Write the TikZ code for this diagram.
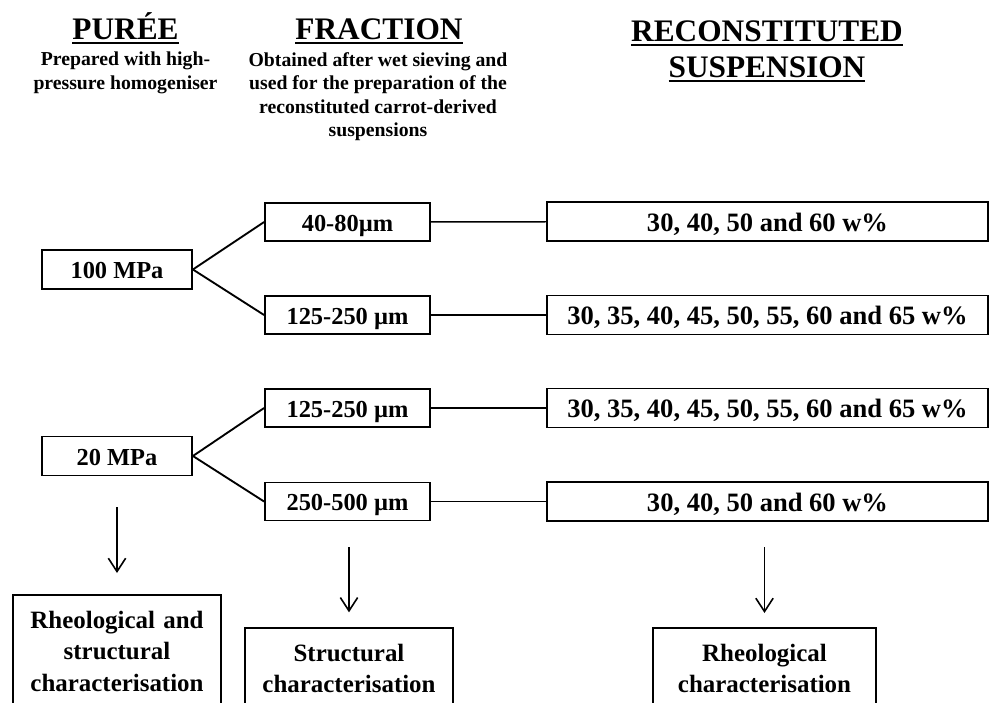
\documentclass[tikz,border=0pt]{standalone}
\usepackage{fontspec}
\setmainfont{Liberation Serif}
\usetikzlibrary{arrows.meta,positioning}

\newcommand{\headul}[1]{\setbox0\hbox{#1}\rlap{\rule[-4.1pt]{\wd0}{1.5pt}}\box0}

\begin{document}
\begin{tikzpicture}[x=0.75pt,y=-0.75pt,
    box/.style={draw,line width=1.4pt,inner sep=0pt,text height=13.7pt,text depth=0pt,
      font=\fontsize{18.3pt}{22pt}\selectfont\bfseries},
    purbox/.style={box,minimum width=112.5pt,minimum height=29.25pt},
    fracbox/.style={box,minimum width=123.75pt,minimum height=28.5pt},
    susbox/.style={box,minimum width=330.75pt,minimum height=29.25pt,text height=14.9pt,
      font=\fontsize{19.9pt}{22pt}\selectfont\bfseries},
    res/.style={draw,line width=1.4pt,anchor=north,align=center,inner xsep=0pt,inner ysep=12pt,
      text depth=60pt,font=\fontsize{18.7pt}{23.6pt}\selectfont\bfseries},
    headtxt/.style={inner sep=0pt,align=center,font=\fontsize{23.5pt}{27pt}\selectfont\bfseries},
    subtxt/.style={inner sep=0pt,anchor=north,align=center,font=\fontsize{14.8pt}{17.6pt}\selectfont\bfseries},
    branch/.style={line width=1.4pt},
    link/.style={line width=1.1pt},
    arr/.style={line width=1.2pt,-{Straight Barb[length=10pt,width=13pt]}}]
    \path[use as bounding box,clip] (0,0) rectangle (990,703);

    % column heads
    \node[headtxt,anchor=base] (hpur) at (125.5,39) {\headul{PURÉE}};
    \node[headtxt,anchor=base] (hfrac) at (379,39) {\headul{FRACTION}};
    \node[headtxt,anchor=north] (hsus) at (767,20) {\headul{RECONSTITUTED}\\\headul{SUSPENSION}};
    \node[subtxt] (spur) at (125.5,52) {Prepared with high-\\pressure homogeniser};
    \node[subtxt] (sfrac) at (378,52) {Obtained after wet sieving and\\used for the preparation of the\\reconstituted carrot-derived\\suspensions};

    % 100 MPa
    \node[purbox] (p100) at (117,269.5) {100 MPa};
    \node[fracbox] (f40) at (347.5,222) {40-80µm};
    \node[fracbox] (f125a) at (347.5,315) {125-250 µm};
    \node[susbox] (s40a) at (767.5,221.5) {30, 40, 50 and 60 w\%};
    \node[susbox] (s35a) at (767.5,315) {30, 35, 40, 45, 50, 55, 60 and 65 w\%};

    % 20 MPa
    \node[purbox] (p20) at (117,456) {20 MPa};
    \node[fracbox] (f125b) at (347.5,408) {125-250 µm};
    \node[fracbox] (f250) at (347.5,501.5) {250-500 µm};
    \node[susbox] (s35b) at (767.5,408) {30, 35, 40, 45, 50, 55, 60 and 65 w\%};
    \node[susbox] (s40b) at (767.5,501.5) {30, 40, 50 and 60 w\%};

    \foreach \f in {f40,f125a} \draw[branch] (p100.east) -- (\f.west);
    \foreach \f in {f125b,f250} \draw[branch] (p20.east) -- (\f.west);
    \foreach \a/\b in {f40/s40a,f125a/s35a,f125b/s35b,f250/s40b}
      \draw[link] (\a) -- (\b);

    % characterisation
    \node[res,text width=156pt] (rpur) at (117,594) {Rheological and\\structural\\characterisation};
    \node[res,text width=156pt] (rfrac) at (349,627) {Structural\\characterisation};
    \node[res,text width=167pt] (rsus) at (764.5,627) {Rheological\\characterisation};

    \coordinate (a1) at (117,507);
    \coordinate (a2) at (349,547);
    \coordinate (a3) at (764.5,547);
    \draw[arr,shorten >=15.75pt] (a1) -- (rpur);
    \draw[arr,shorten >=11pt] (a2) -- (rfrac);
    \draw[arr,shorten >=10.5pt] (a3) -- (rsus);
\end{tikzpicture}
\end{document}
